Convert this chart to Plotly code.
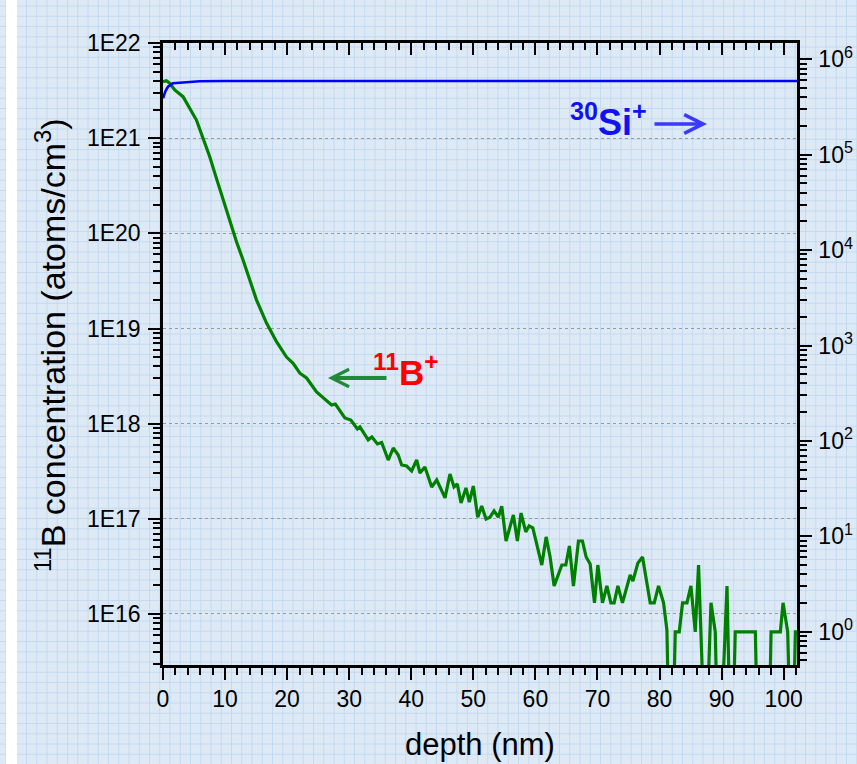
import plotly.graph_objects as go

# ---------------- data ----------------
depth_B = [0.0, 0.55, 1.08, 1.89, 3.23, 4.30, 5.39, 6.45, 7.53, 8.61, 9.68, 10.76, 11.84, 12.90,
           13.98, 15.06, 16.68, 18.29, 19.90, 20.97, 22.05, 23.13, 24.74, 27.16, 27.77, 29.31,
           30.27, 31.32, 31.73, 33.06, 33.66, 34.55, 35.23, 36.29, 37.10, 37.90, 38.45, 39.26,
           40.06, 40.87, 41.40, 42.20, 43.29, 44.10, 44.63, 45.44, 46.24, 46.89, 47.42, 48.02,
           48.82, 49.35, 50.00, 50.71, 51.35, 52.05, 52.69, 53.34, 54.03, 54.58, 55.27, 56.45,
           57.10, 57.69, 58.45, 58.98, 59.58, 61.03, 61.73, 62.37, 63.02, 64.26, 64.90, 65.48,
           66.13, 66.94, 67.58, 68.18, 68.82, 69.52, 70.06, 70.81, 71.52, 72.16, 72.69, 73.29,
           74.03, 75.27, 75.71, 76.52, 77.26, 78.50, 79.15, 79.84, 80.65, 81.19, 81.45, 82.26,
           82.53, 83.18, 83.71, 84.42, 85.06, 85.76, 86.29, 87.10, 87.70, 88.29, 88.98, 89.26,
           90.06, 90.87, 91.29, 91.90, 92.20, 92.85, 93.50, 94.15, 94.80, 95.44, 95.70, 96.40,
           97.10, 97.74, 97.97, 98.70, 99.47, 99.90, 100.65, 100.97, 101.60, 101.89, 102.15]

# 11B concentration (atoms/cm3); 1e15 stands for zero counts (falls below the axis)
conc_B = [3.92e21, 4.02e21, 3.78e21, 3.21e21, 2.73e21, 2.06e21, 1.55e21, 9.98e20, 6.38e20, 3.78e20,
          2.24e20, 1.38e20, 8.17e19, 5.25e19, 3.24e19, 2.00e19, 1.14e19, 7.26e18, 5.01e18, 4.31e18,
          3.39e18, 3.02e18, 2.15e18, 1.57e18, 1.61e18, 1.15e18, 1.09e18, 8.79e17, 9.23e17, 6.76e17,
          7.24e17, 6.12e17, 6.34e17, 4.15e17, 5.55e17, 4.69e17, 3.68e17, 3.59e17, 3.18e17, 4.15e17,
          3.03e17, 3.51e17, 2.16e17, 2.56e17, 2.16e17, 1.66e17, 2.96e17, 2.16e17, 2.32e17, 1.47e17,
          2.11e17, 1.50e17, 2.21e17, 1.04e17, 1.36e17, 9.95e16, 1.04e17, 1.21e17, 1.04e17, 1.36e17,
          5.85e16, 1.10e17, 5.85e16, 1.15e17, 7.28e16, 8.41e16, 8.02e16, 3.27e16, 6.46e16, 3.97e16,
          1.97e16, 3.27e16, 3.27e16, 5.19e16, 1.97e16, 5.85e16, 5.85e16, 3.97e16, 3.35e16, 1.31e16,
          3.27e16, 1.31e16, 1.97e16, 1.31e16, 1.31e16, 1.97e16, 1.31e16, 2.57e16, 2.22e16, 3.44e16,
          3.97e16, 1.31e16, 1.31e16, 1.97e16, 1.31e16, 6.79e15, 1e15, 1e15,
          6.5e15, 6.5e15, 1.31e16, 1.31e16, 1.97e16, 6.5e15, 3.27e16, 1e15, 1e15, 1.31e16, 6.5e15, 1e15,
          1e15, 1.97e16, 1e15, 1e15, 6.5e15, 6.5e15, 6.5e15, 6.5e15, 6.5e15, 6.5e15, 1e15, 1e15,
          1e15, 1e15, 6.5e15, 6.5e15, 6.5e15, 1.31e16, 6.5e15, 1e15, 1e15, 6.5e15, 6.5e15]

depth_Si = [0.0, 0.4, 0.8, 1.6, 2.7, 4.0, 5.9, 10, 20, 30, 40, 41.5, 43, 50, 60, 70, 80, 90, 100, 102.15]
counts_Si = [3.9e5, 4.65e5, 5.16e5, 5.61e5, 5.69e5, 5.80e5, 5.89e5, 5.92e5, 5.93e5, 5.93e5, 5.93e5,
             5.98e5, 5.93e5, 5.93e5, 5.93e5, 5.93e5, 5.93e5, 5.93e5, 5.93e5, 5.93e5]

left_tickvals = [1e16, 1e17, 1e18, 1e19, 1e20, 1e21, 1e22]
left_ticktext = ["1E16", "1E17", "1E18", "1E19", "1E20", "1E21", "1E22"]
right_tickvals = [1, 10, 100, 1e3, 1e4, 1e5, 1e6]
right_ticktext = ["10<sup>0</sup>", "10<sup>1</sup>", "10<sup>2</sup>", "10<sup>3</sup>",
                  "10<sup>4</sup>", "10<sup>5</sup>", "10<sup>6</sup>"]

x_range = [0, 102.15]
yl_range = [15.464, 22.0]
yr_range = [-0.349, 6.171]

# ---------------- layout geometry ----------------
W, H = 857, 764
ML, MR, MT, MB = 163, 60, 43, 99
PW, PH = W - ML - MR, H - MT - MB
FONT = "Liberation Sans, Arial, Helvetica, sans-serif"


def px(xp):
    return (xp - ML) / PW


def py(yp):
    return (H - MB - yp) / PH


fig = go.Figure()
fig.add_trace(go.Scatter(x=depth_B, y=conc_B, mode="lines", line=dict(color="#008000", width=3.2),
                         xaxis="x", yaxis="y", hoverinfo="skip", showlegend=False))
fig.add_trace(go.Scatter(x=depth_Si, y=counts_Si, mode="lines", line=dict(color="#0000ff", width=2.6),
                         xaxis="x", yaxis="y2", hoverinfo="skip", showlegend=False))

# background "graph paper"
shapes = []
bg_line = "#c4daf0"
step = 10.25
k = 0
while 6 + k * step < W:
    xx = 6 + k * step
    shapes.append(dict(type="line", xref="paper", yref="paper", x0=px(xx), x1=px(xx), y0=py(0), y1=py(H),
                       line=dict(color=bg_line, width=1), layer="below"))
    k += 1
k = 0
while 6 + k * step < H:
    yy = 6 + k * step
    shapes.append(dict(type="line", xref="paper", yref="paper", x0=px(0), x1=px(W), y0=py(yy), y1=py(yy),
                       line=dict(color=bg_line, width=1), layer="below"))
    k += 1
shapes.append(dict(type="rect", xref="paper", yref="paper", x0=px(6), x1=px(17), y0=py(0), y1=py(H),
                   fillcolor="white", line=dict(width=0), layer="below"))

tickfont = dict(family=FONT, size=23, color="black")
axis_common = dict(showline=True, linecolor="black", linewidth=2.5, ticks="outside", ticklen=12,
                   tickwidth=2, tickcolor="black", zeroline=False, tickfont=tickfont,
                   automargin=False)

fig.update_layout(
    width=W, height=H, margin=dict(l=ML, r=MR, t=MT, b=MB, pad=0, autoexpand=False),
    paper_bgcolor="#dee9f6", plot_bgcolor="rgba(0,0,0,0)",
    font=dict(family=FONT, color="black"),
    showlegend=False,
    shapes=shapes,
    xaxis=dict(range=x_range, dtick=10, tick0=0, showgrid=False,
               minor=dict(ticks="outside", ticklen=7, tickwidth=2, tickcolor="black", dtick=2),
               **axis_common),
    xaxis2=dict(range=x_range, overlaying="x", side="top", dtick=10, tick0=0, showgrid=False,
                showline=True, linecolor="black", linewidth=2.5, ticks="inside", ticklen=12,
                tickwidth=2, tickcolor="black", showticklabels=False, zeroline=False,
                automargin=False,
                minor=dict(ticks="inside", ticklen=7, tickwidth=2, tickcolor="black", dtick=2)),
    yaxis=dict(type="log", range=yl_range, tickmode="array", tickvals=left_tickvals,
               ticktext=left_ticktext, showgrid=True, gridcolor="#9a9a9a", gridwidth=1.3,
               griddash="dot", ticklabelstandoff=3,
               minor=dict(ticks="outside", ticklen=7, tickwidth=2, tickcolor="black", dtick="D1",
                          showgrid=False),
               **axis_common),
    yaxis2=dict(type="log", range=yr_range, overlaying="y", side="right", tickmode="array",
                tickvals=right_tickvals, ticktext=right_ticktext, showgrid=False,
                ticklabelstandoff=2,
                minor=dict(ticks="outside", ticklen=7, tickwidth=2, tickcolor="black", dtick="D1",
                           showgrid=False),
                **axis_common),
)
# dummy trace to show top axis
fig.add_trace(go.Scatter(x=[None], y=[None], xaxis="x2", yaxis="y", showlegend=False))

annotations = [
    dict(text="depth (nm)", x=px(480), y=py(744), xref="paper", yref="paper", showarrow=False,
         xanchor="center", yanchor="middle", font=dict(family=FONT, size=31, color="black")),
    dict(text="<sup>11</sup>B concentration (atoms/cm<sup>3</sup>)", x=px(50), y=py(345),
         xref="paper", yref="paper", showarrow=False, textangle=-90,
         xanchor="center", yanchor="middle", font=dict(family=FONT, size=34, color="black")),
    dict(text="<b><sup>30</sup>Si<sup>+</sup></b>", x=px(568), y=py(120), xref="paper", yref="paper",
         showarrow=False, xanchor="left", yanchor="middle", font=dict(family=FONT, size=36, color="#1212ee")),
    dict(text="<b><sup>11</sup>B<sup>+</sup></b>", x=px(371), y=py(370), xref="paper", yref="paper",
         showarrow=False, xanchor="left", yanchor="middle", font=dict(family=FONT, size=35, color="#ff0000")),
    # arrows
    dict(text="", x=px(707), y=py(124), xref="paper", yref="paper", ax=-54, ay=0, showarrow=True,
         arrowhead=5, arrowsize=1.05, arrowwidth=3.5, arrowcolor="#3a3aff"),
    dict(text="", x=px(328), y=py(378), xref="paper", yref="paper", ax=60, ay=0, showarrow=True,
         arrowhead=5, arrowsize=0.85, arrowwidth=4, arrowcolor="#1e8a3a"),
]
fig.update_layout(annotations=annotations)

fig.write_html("out.html")
